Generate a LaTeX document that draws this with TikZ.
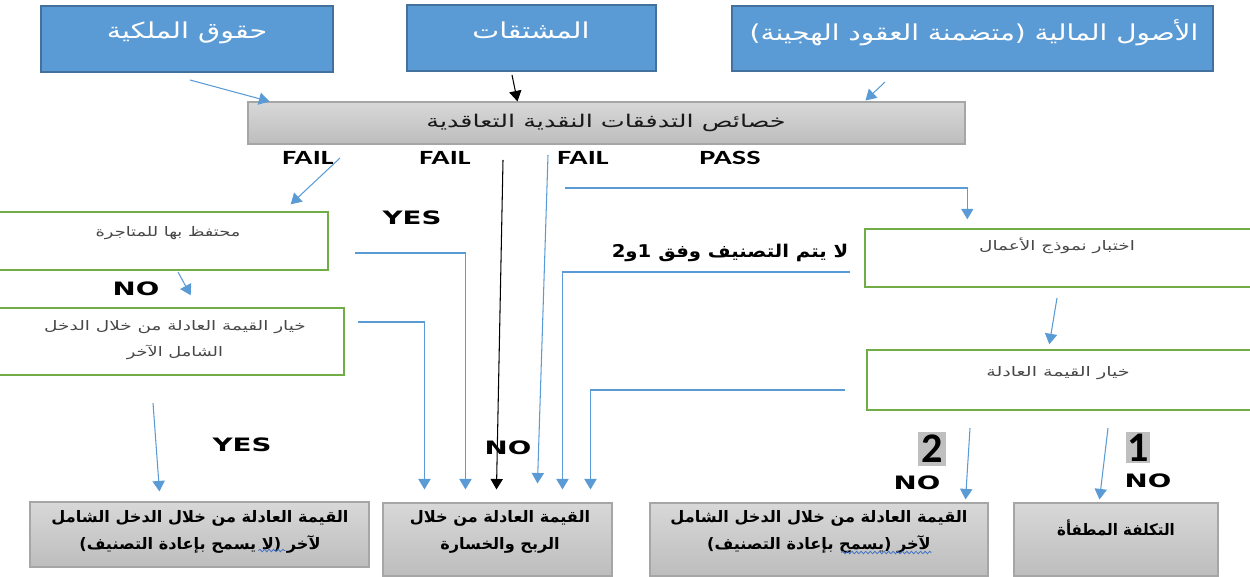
\documentclass[tikz,border=0pt]{standalone}
\usepackage{fontspec}
\usepackage{graphicx}
\usetikzlibrary{arrows.meta,calc,decorations.pathmorphing}
\setmainfont{Carlito}
\newfontfamily\arabicfont[Script=Arabic]{DejaVu Sans}
\newfontfamily\widesans{DejaVu Sans}
\TeXXeTstate=1

\definecolor{srcfill}{HTML}{5B9BD5}
\definecolor{srcedge}{HTML}{41719C}
\definecolor{linkblue}{HTML}{5B9BD5}
\definecolor{stepedge}{HTML}{70AD47}
\definecolor{resedge}{HTML}{A6A6A6}
\definecolor{restop}{HTML}{D8D8D8}
\definecolor{resbot}{HTML}{BDBDBD}
\definecolor{markgray}{HTML}{BFBFBF}
\definecolor{squiggle}{HTML}{4472C4}

% text is set widened horizontally; the optional argument is the factor
\newcommand\artxt[2][1.35]{\scalebox{#1}[1]{\arabicfont\beginR #2\endR}}
\newcommand\lattxt[2][1.5]{\scalebox{#1}[1]{#2}}

\begin{document}
\begin{tikzpicture}[x=0.02cm,y=-0.02cm,
  dims/.style 2 args={minimum width=#1*0.02cm, minimum height=#2*0.02cm},
  srcbox/.style={draw=srcedge, line width=0.9pt, fill=srcfill, inner sep=0pt},
  srctxt/.style={text=white, inner sep=0pt, font=\fontsize{12.5}{14}\selectfont},
  testbox/.style={draw=resedge, line width=0.6pt, top color=restop, bottom color=resbot, inner sep=0pt},
  testtxt/.style={text=black!90, inner sep=0pt, font=\fontsize{10}{12}\selectfont},
  stepbox/.style={draw=stepedge, line width=0.8pt, fill=white, inner sep=0pt},
  steptxt/.style={text=black!72, inner sep=0pt, align=center, font=\fontsize{7.5}{14.7}\selectfont},
  resbox/.style={draw=resedge, line width=0.6pt, top color=restop, bottom color=resbot, inner sep=0pt},
  restxt/.style={text=black, inner sep=0pt, align=center, font=\bfseries\fontsize{9}{15.3}\selectfont},
  flag/.style={inner sep=0pt, font=\bfseries\fontsize{11.5}{13}\selectfont},
  answer/.style={inner sep=0pt, font=\widesans\bfseries\fontsize{10.5}{12}\selectfont},
  digit/.style={fill=markgray, inner sep=0pt, font=\bfseries\fontsize{24}{26}\selectfont},
  note/.style={inner sep=0pt, font=\bfseries\fontsize{10}{12}\selectfont},
  link/.style={draw=linkblue, line width=0.6pt, -{Triangle[width=7pt,length=6pt]}},
  blink/.style={draw=black, line width=0.6pt, -{Triangle[width=7pt,length=6pt]}},
  wavy/.style={draw=squiggle, line width=0.45pt, decorate,
    decoration={snake, amplitude=0.7pt, segment length=2.6pt}}
]
\useasboundingbox (0,0) rectangle (1250,577);
\clip (0,0) rectangle (1250,577);

% source categories
\node[srcbox, dims={292}{66}] (eq) at (187,39) {};
\node[srctxt] (eq-t) at (187,33) {\artxt[1.3]{حقوق الملكية}};
\node[srcbox, dims={249}{66}] (der) at (531.5,38) {};
\node[srctxt] (der-t) at (531,30) {\artxt[1.3]{المشتقات}};
\node[srcbox, dims={481}{65}] (fa) at (972.5,38.5) {};
\node[srctxt] (fa-t) at (974,33) {\artxt[1.27]{الأصول المالية (متضمنة العقود الهجينة)}};

% cash flow characteristics test
\node[testbox, dims={717}{42}] (ccf) at (606.5,123) {};
\node[testtxt] (ccf-t) at (606,123) {\artxt[1.45]{خصائص التدفقات النقدية التعاقدية}};

\node[flag] (f1) at (308,158) {\lattxt{FAIL}};
\node[flag] (f2) at (445,158) {\lattxt{FAIL}};
\node[flag] (f3) at (583,158) {\lattxt{FAIL}};
\node[flag] (ps) at (730,158) {\lattxt{PASS}};

% decision steps
\node[stepbox, dims={332}{58}] (hft) at (162,241) {};
\node[steptxt] (hft-t) at (168,233) {\artxt{محتفظ بها للمتاجرة}};
\node[stepbox, dims={348}{67}] (oci) at (170,341.5) {};
\node[steptxt] (oci-t) at (175,340) {\artxt[1.4]{خيار القيمة العادلة من خلال الدخل}\\\artxt{الشامل الآخر}};
\node[stepbox, dims={400}{58}] (bm) at (1065,258) {};
\node[steptxt] (bm-t) at (1057,246) {\artxt[1.4]{اختبار نموذج الأعمال}};
\node[stepbox, dims={398}{60}] (fvo) at (1066,380) {};
\node[steptxt] (fvo-t) at (1058,373) {\artxt[1.45]{خيار القيمة العادلة}};

% resulting measurement categories
\node[resbox, dims={339}{65}] (fvoci) at (199.5,534.5) {};
\node[restxt] (fvoci-t) at (200,532) {\artxt[1.02]{القيمة العادلة من خلال الدخل الشامل}\\\artxt[1.02]{لآخر (لا يسمح بإعادة التصنيف)}};
\node[resbox, dims={229}{73}] (fvpl) at (497.5,539.5) {};
\node[restxt] (fvpl-t) at (500,532) {\artxt[1.02]{القيمة العادلة من خلال}\\\artxt[1.02]{الربح والخسارة}};
\node[resbox, dims={338}{73}] (fvrc) at (819,539.5) {};
\node[restxt] (fvrc-t) at (819,532) {\artxt[1.02]{القيمة العادلة من خلال الدخل الشامل}\\\artxt[1.02]{لآخر (يسمح بإعادة التصنيف)}};
\node[resbox, dims={204}{73}] (ac) at (1116,539.5) {};
\node[restxt] (ac-t) at (1116,528) {\artxt[0.95]{التكلفة المطفأة}};

% spelling marks under two words
\draw[wavy] ($(fvoci.south west)+(229,-17)$) -- ($(fvoci.south west)+(256,-17)$);
\draw[wavy] ($(fvrc.south west)+(192,-24)$) -- ($(fvrc.south west)+(282,-24)$);

% answer labels
\node[answer] (yes1) at (412,218) {\lattxt{YES}};
\node[answer] (no1) at (136,289) {\lattxt{NO}};
\node[answer] (yes2) at (242,445) {\lattxt{YES}};
\node[answer] (no2) at (508,448) {\lattxt{NO}};
\node[digit, dims={28}{34}] (two) at (932,449) {2};
\node[answer] (no3) at (917,483) {\lattxt{NO}};
\node[digit, dims={24}{31}] (one) at (1138,447.5) {1};
\node[answer] (no4) at (1148,481) {\lattxt{NO}};
\node[note] (nc) at (730,253) {\artxt[1.12]{لا يتم التصنيف وفق 1و2}};

% free ends of the connectors
\coordinate (eq-out) at (190,80);
\coordinate (der-out) at (512,75);
\coordinate (fa-out) at (885,82);
\coordinate (f1-out) at (340,158);
\coordinate (f2-out) at (503,160);
\coordinate (f3-out) at (548,155);
\coordinate (ps-out) at (565,188);
\coordinate (hft-out) at (355,253);
\coordinate (hft-down) at (178,272);
\coordinate (oci-out) at (358,322);
\coordinate (oci-down) at (153,403);
\coordinate (bm-out) at (850,272);
\coordinate (bm-down) at (1057,298);
\coordinate (fvo-out) at (845,390);
\coordinate (fvo-l) at (970,428);
\coordinate (fvo-r) at (1108,428);

% connectors
\draw[link] (eq-out) -- ($(ccf.north west)+(22,0)$);
\draw[blink] (der-out) -- ($(ccf.north west)+(270,0)$);
\draw[link] (fa-out) -- ($(ccf.north west)+(618,-1)$);
\draw[link] (f1-out) -- ($(hft.north east)+(-38,-7)$);
\draw[blink] (f2-out) -- ($(fvpl.north west)+(114,-13)$);
\draw[link] (f3-out) -- ($(fvpl.north west)+(155,-19)$);
\draw[link] (hft-out) -| ($(fvpl.north west)+(83,-13)$);
\draw[link] (oci-out) -| ($(fvpl.north west)+(42,-13)$);
\draw[link] (bm-out) -| ($(fvpl.north west)+(180,-13)$);
\draw[link] (fvo-out) -| ($(fvpl.north west)+(208,-13)$);
\draw[link] (ps-out) -| ($(bm.north west)+(103,-9)$);
\draw[link] (bm-down) -- ($(fvo.north west)+(183,-5)$);
\draw[link] (hft-down) -- ($(oci.north east)+(-154,-12)$);
\draw[link] (oci-down) -- ($(fvoci.north west)+(130,-10)$);
\draw[link] (fvo-l) -- ($(fvrc.north east)+(-23,-3)$);
\draw[link] (fvo-r) -- ($(ac.north west)+(86,-3)$);
\end{tikzpicture}
\end{document}
